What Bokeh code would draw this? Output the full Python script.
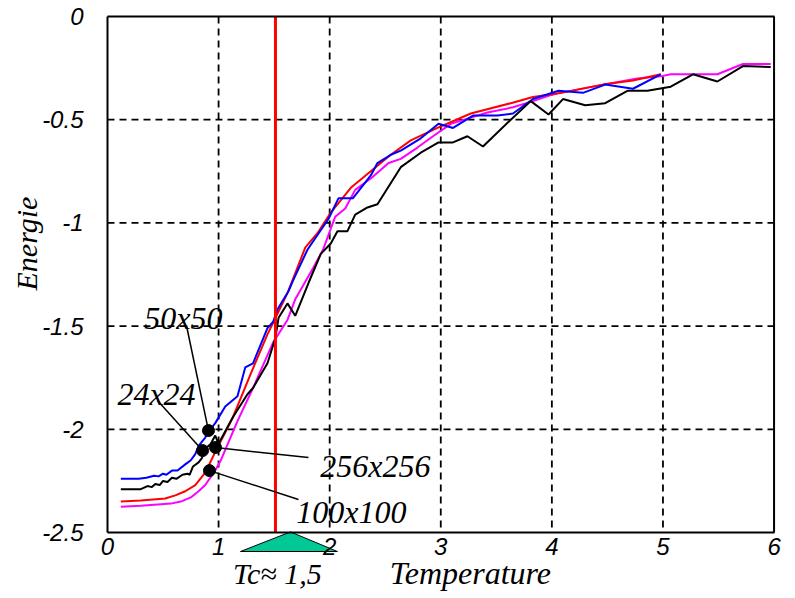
import math
from bokeh.plotting import figure
from bokeh.models import Range1d, Label, FixedTicker, LinearAxis
from bokeh.embed import file_html
from bokeh.resources import INLINE

# ---- data -------------------------------------------------------------
x_ticks = [0, 1, 2, 3, 4, 5, 6]
x_tick_labels = ["0", "1", "2", "3", "4", "5", "6"]
y_ticks = [0, -0.5, -1, -1.5, -2, -2.5]
y_tick_labels = ["0", "-0.5", "-1", "-1.5", "-2", "-2.5"]

# 24x24 (black)
t_24 = [0.12, 0.30, 0.36, 0.40, 0.43, 0.47, 0.50, 0.54, 0.58, 0.62, 0.675, 0.72, 0.74, 0.77,
        0.82, 0.85, 0.87, 0.93, 0.97, 1.00, 1.03, 1.13, 1.26, 1.31, 1.44, 1.51, 1.54, 1.62,
        1.69, 1.81, 1.92, 2.01, 2.07, 2.16, 2.23, 2.34, 2.43, 2.64, 2.82, 2.98, 3.11, 3.24,
        3.38, 3.63, 3.81, 3.97, 4.10, 4.30, 4.48, 4.68, 4.86, 5.07, 5.27, 5.49, 5.72, 5.97]
e_24 = [-2.29, -2.29, -2.275, -2.28, -2.265, -2.27, -2.25, -2.255, -2.235, -2.24, -2.22, -2.215, -2.22, -2.18,
        -2.16, -2.14, -2.10, -2.07, -2.03, -2.07, -2.04, -1.94, -1.83, -1.80, -1.68, -1.56, -1.46, -1.39,
        -1.45, -1.29, -1.15, -1.10, -1.04, -1.04, -0.96, -0.925, -0.91, -0.73, -0.66, -0.61, -0.61, -0.58,
        -0.63, -0.50, -0.41, -0.475, -0.40, -0.43, -0.42, -0.36, -0.36, -0.34, -0.28, -0.315, -0.24, -0.245]

# 50x50 (blue)
t_50 = [0.12, 0.28, 0.35, 0.42, 0.46, 0.50, 0.53, 0.58, 0.63, 0.70, 0.75, 0.79, 0.82, 0.88, 0.91,
        0.97, 1.06, 1.17, 1.24, 1.31, 1.44, 1.49, 1.53, 1.63, 1.67, 1.80, 1.99, 2.08, 2.21, 2.37,
        2.43, 2.55, 2.64, 2.82, 2.98, 3.11, 3.29, 3.51, 3.65, 3.83, 4.06, 4.28, 4.48, 4.73, 4.98]
e_50 = [-2.24, -2.24, -2.235, -2.225, -2.228, -2.215, -2.22, -2.20, -2.20, -2.17, -2.15, -2.12, -2.08, -2.04, -2.01,
        -1.97, -1.89, -1.84, -1.70, -1.68, -1.51, -1.48, -1.42, -1.33, -1.28, -1.13, -0.98, -0.88, -0.88, -0.77,
        -0.71, -0.67, -0.65, -0.59, -0.52, -0.54, -0.48, -0.48, -0.47, -0.40, -0.36, -0.37, -0.33, -0.35, -0.28]

# 100x100 (magenta)
t_100 = [0.12, 0.30, 0.57, 0.66, 0.75, 0.82, 0.88, 0.97, 1.02, 1.17, 1.31, 1.49, 1.62, 1.69, 1.85,
         1.94, 2.05, 2.14, 2.23, 2.37, 2.53, 2.64, 2.79, 2.93, 3.09, 3.27, 3.42, 3.65, 3.83, 3.99,
         4.08, 4.46, 4.77, 4.98, 5.07, 5.49, 5.72, 5.97]
e_100 = [-2.375, -2.37, -2.36, -2.35, -2.33, -2.30, -2.27, -2.20, -2.15, -1.96, -1.80, -1.58, -1.47, -1.37, -1.22,
         -1.13, -0.97, -0.93, -0.84, -0.785, -0.71, -0.69, -0.635, -0.58, -0.52, -0.49, -0.465, -0.44, -0.41, -0.38,
         -0.37, -0.33, -0.30, -0.29, -0.28, -0.28, -0.23, -0.23]

# 256x256 (red)
t_256 = [0.12, 0.30, 0.52, 0.61, 0.70, 0.79, 0.88, 0.97, 1.13, 1.29, 1.44, 1.53, 1.62, 1.78, 1.89,
         2.01, 2.19, 2.37, 2.55, 2.73, 2.97, 3.27, 3.63, 3.83, 4.08, 4.46, 4.73, 4.98]
e_256 = [-2.35, -2.345, -2.335, -2.32, -2.30, -2.27, -2.21, -2.11, -1.94, -1.73, -1.54, -1.44, -1.34, -1.12, -1.05,
         -0.95, -0.83, -0.75, -0.67, -0.60, -0.54, -0.47, -0.42, -0.39, -0.37, -0.33, -0.31, -0.28]

# callouts: label text, label position, dot position, leader end
call_text = ["50x50", "24x24", "256x256", "100x100"]
call_tx = [0.684, 0.441, 2.412, 2.196]
call_ty = [-1.463, -1.827, -2.180, -2.403]
dot_x = [0.909, 0.856, 0.972, 0.918]
dot_y = [-2.006, -2.103, -2.088, -2.200]
lead_x = [0.711, 0.45, 1.809, 1.719]
lead_y = [-1.497, -1.86, -2.137, -2.340]

tc_value = 1.512
tc_text = "Tc\u2248 1,5"
tc_text_pos = (1.530, -2.699)
x_title = "Temperature"
x_title_pos = (3.267, -2.694)
y_title = "Energie"
y_title_pos = (-0.729, -1.100)
tc_marker_x = [1.197, 1.647, 2.070]
tc_marker_y = [-2.592, -2.497, -2.592]

# ---- figure -----------------------------------------------------------
x_lo, x_hi = x_ticks[0], x_ticks[-1]
y_hi, y_lo = y_ticks[0], y_ticks[-1]

p = figure(width=793, height=596, x_range=Range1d(-0.963, 6.175), y_range=Range1d(-2.810, 0.0775),
           output_backend="svg", toolbar_location=None,
           min_border_left=0, min_border_right=0, min_border_top=0, min_border_bottom=0)
p.background_fill_color = "white"
p.outline_line_color = None
p.xgrid.visible = False
p.ygrid.visible = False

xa = p.xaxis[0]
ya = p.yaxis[0]
for ax in (xa, ya):
    ax.axis_line_width = 2
    ax.axis_line_color = "black"
    ax.major_tick_out = 0
    ax.major_tick_in = 0
    ax.minor_tick_out = 0
    ax.minor_tick_in = 0
    ax.major_label_text_font = "Liberation Sans"
    ax.major_label_text_font_style = "italic"
    ax.major_label_text_font_size = "24px"
    ax.major_label_text_color = "black"

xa.ticker = FixedTicker(ticks=x_ticks)
xa.major_label_overrides = {t: s for t, s in zip(x_ticks, x_tick_labels)}
xa.major_label_standoff = 5
xa.fixed_location = y_lo
xa.bounds = (x_lo, x_hi)

ya.ticker = FixedTicker(ticks=y_ticks)
ya.major_label_overrides = {t: s for t, s in zip(y_ticks, y_tick_labels)}
ya.major_label_standoff = 24
ya.fixed_location = x_lo
ya.bounds = (y_lo, y_hi)

# top border as a bare axis
top = LinearAxis(ticker=FixedTicker(ticks=[]), bounds=(x_lo, x_hi), axis_line_width=2,
                 axis_line_color="black", major_tick_out=0, minor_tick_out=0,
                 major_label_text_font_size="0px", fixed_location=y_hi)
p.add_layout(top, "above")

# dashed grid lines, limited to the plotting box
gx = x_ticks[1:-1]
gy = y_ticks[1:-1]
p.segment(x0=gx, y0=[y_hi] * len(gx), x1=gx, y1=[y_lo] * len(gx),
          line_color="black", line_width=1.8, line_dash="7 5")
p.segment(x0=[x_lo] * len(gy), y0=gy, x1=[x_hi] * len(gy), y1=gy,
          line_color="black", line_width=1.8, line_dash="7 5")

# right border
p.line([x_hi, x_hi], [y_hi, y_lo], line_color="black", line_width=2)

# curves
p.line(t_100, e_100, line_color="#ff00ff", line_width=2)
p.line(t_256, e_256, line_color="#ff0000", line_width=2)
p.line(t_50, e_50, line_color="#0000ff", line_width=2)
p.line(t_24, e_24, line_color="black", line_width=2)

# Tc line
p.line([tc_value, tc_value], [y_hi, y_lo], line_color="#ff0000", line_width=3)

# callouts
for i in range(len(call_text)):
    p.line([dot_x[i], lead_x[i]], [dot_y[i], lead_y[i]], line_color="black", line_width=1.5)
p.scatter(dot_x, dot_y, size=12, color="black")
for i in range(len(call_text)):
    p.add_layout(Label(x=call_tx[i], y=call_ty[i], text=call_text[i], text_align="center",
                       text_baseline="alphabetic", text_font="Liberation Serif",
                       text_font_style="italic", text_font_size="32px", text_color="black"))

# Tc marker below the axis
p.patch(tc_marker_x, tc_marker_y, fill_color="#00c896", line_color="black", line_width=1)
p.add_layout(Label(x=tc_text_pos[0], y=tc_text_pos[1], text=tc_text, text_align="center",
                   text_baseline="middle", text_font="Liberation Serif",
                   text_font_style="italic", text_font_size="30px", text_color="black"))
p.add_layout(Label(x=x_title_pos[0], y=x_title_pos[1], text=x_title, text_align="center",
                   text_baseline="middle", text_font="Liberation Serif",
                   text_font_style="italic", text_font_size="32px", text_color="black"))
p.add_layout(Label(x=y_title_pos[0], y=y_title_pos[1], text=y_title, angle=math.pi / 2,
                   text_align="center", text_baseline="middle", text_font="Liberation Serif",
                   text_font_style="italic", text_font_size="30px", text_color="black"))

open("out.html", "w").write(file_html(p, INLINE))
